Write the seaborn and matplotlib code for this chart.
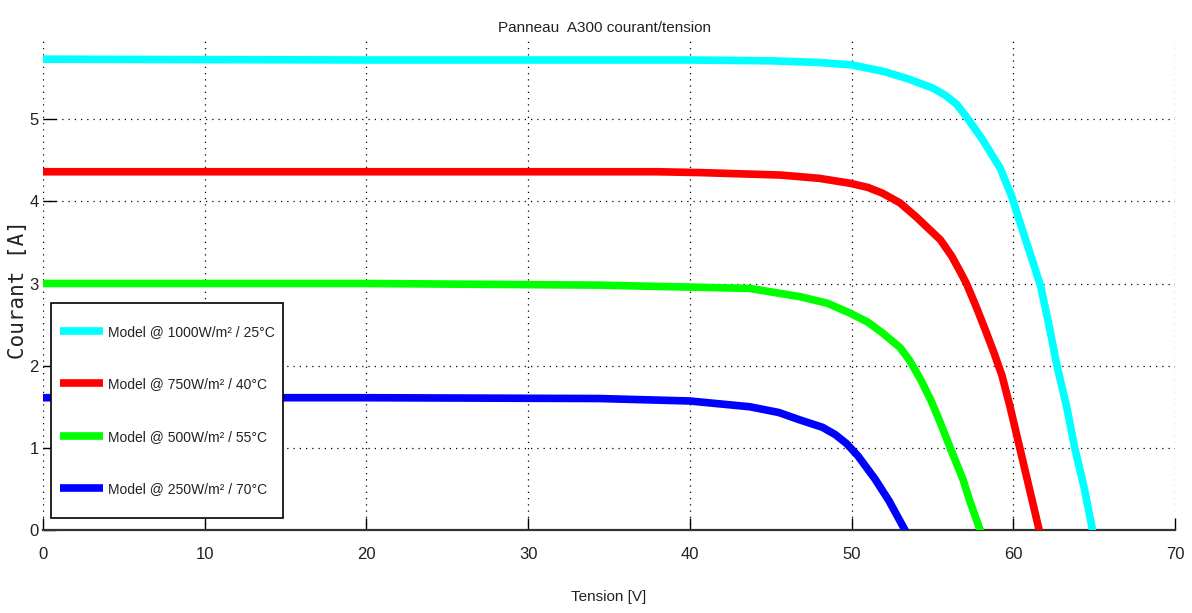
import matplotlib
matplotlib.use("Agg")
import matplotlib.pyplot as plt
import seaborn as sns
import pandas as pd

# Series labels and colours
labels = [
    "Model @ 1000W/m² / 25°C",
    "Model @ 750W/m² / 40°C",
    "Model @ 500W/m² / 55°C",
    "Model @ 250W/m² / 70°C",
]
colors = ["#00FFFF", "#FF0000", "#00FF00", "#0000FF"]

# I-V curves: voltage [V] and current [A] for each irradiance / temperature
v_1000 = [0, 20, 40, 45, 48, 50, 52, 53.5, 55, 55.8, 56.5, 57.1, 58.1, 59.2, 59.9, 60.6, 61.2,
          61.7, 62.2, 62.7, 63.3, 63.8, 64.4, 64.9]
i_1000 = [5.73, 5.72, 5.72, 5.71, 5.69, 5.66, 5.58, 5.49, 5.38, 5.29, 5.18, 5.03, 4.75, 4.40, 4.06,
          3.63, 3.27, 2.96, 2.5, 2.0, 1.5, 1.0, 0.5, 0.0]

v_750 = [0, 20, 38, 40.6, 45.6, 48.0, 49.9, 51.0, 51.9, 53.0, 54.0, 55.5, 56.2, 56.7, 57.1, 57.7,
         58.3, 58.8, 59.3, 59.8, 60.4, 61.0, 61.6]
i_750 = [4.36, 4.36, 4.36, 4.35, 4.32, 4.28, 4.22, 4.17, 4.10, 3.98, 3.81, 3.53, 3.33, 3.15, 3.0,
         2.72, 2.42, 2.16, 1.88, 1.5, 1.0, 0.5, 0.0]

v_500 = [0, 20, 34.4, 43.7, 46.8, 48.5, 49.9, 51.0, 51.9, 53.0, 53.6, 54.3, 54.9, 55.5, 56.1, 56.9,
         57.3, 57.95]
i_500 = [3.0, 3.0, 2.98, 2.94, 2.84, 2.76, 2.64, 2.53, 2.40, 2.22, 2.06, 1.82, 1.58, 1.30, 1.0, 0.61,
         0.36, 0.0]

v_250 = [0, 20, 34.4, 40, 43.7, 45.5, 46.8, 48.2, 49.0, 49.7, 50.4, 51.45, 52.3, 53.3]
i_250 = [1.61, 1.61, 1.60, 1.57, 1.50, 1.43, 1.34, 1.25, 1.16, 1.05, 0.90, 0.62, 0.36, 0.0]

x_ticks = [0, 10, 20, 30, 40, 50, 60, 70]
y_ticks = [0, 1, 2, 3, 4, 5]

title = "Panneau  A300 courant/tension"
x_label = "Tension [V]"
y_label = "Courant [A]"

# Long-form table for seaborn
frames = []
for lab, v, i in zip(labels, [v_1000, v_750, v_500, v_250], [i_1000, i_750, i_500, i_250]):
    frames.append(pd.DataFrame({"Tension": v, "Courant": i, "serie": lab}))
df = pd.concat(frames, ignore_index=True)

sns.set_style("white")
narrow = ["Liberation Sans", "DejaVu Sans"]
plt.rcParams["font.family"] = narrow

fig = plt.figure(figsize=(11.92, 6.13), dpi=100)
ax = fig.add_axes([43 / 1192, 83 / 613, 1132 / 1192, 493 / 613])

sns.lineplot(
    data=df, x="Tension", y="Courant", hue="serie", hue_order=labels,
    palette=dict(zip(labels, colors)), sort=False, estimator=None,
    linewidth=5.5, ax=ax, zorder=3,
)

ax.set_xlim(0, 70)
ax.set_ylim(0, 6)
ax.set_xticks(x_ticks)
ax.set_xticklabels([str(t) for t in x_ticks])
ax.set_yticks(y_ticks)
ax.set_yticklabels([str(t) for t in y_ticks])

ax.grid(True, color="black", linestyle=(0, (1, 4)), linewidth=0.9, zorder=1)
ax.set_axisbelow(True)

for side in ["top", "right", "left"]:
    ax.spines[side].set_visible(False)
ax.spines["bottom"].set_color("#333333")
ax.spines["bottom"].set_linewidth(1.6)

ax.tick_params(axis="both", direction="in", length=9, width=1, color="black",
               labelsize=12, labelcolor="#222222")
ax.tick_params(axis="x", pad=12, bottom=True)
ax.tick_params(axis="y", pad=3, left=True)

ax.set_xlabel("")
ax.set_ylabel("")
fig.text(609 / 1192, 1 - 597 / 613, x_label, ha="center", va="center",
         fontsize=11, color="#222222", family=narrow)
fig.text(18 / 1192, 1 - 290 / 613, y_label, ha="center", va="center",
         rotation=90, fontsize=15, color="#222222", family=["DejaVu Sans Mono"])
fig.text(605 / 1192, 1 - 28 / 613, title, ha="center", va="center",
         fontsize=11, color="#222222", family=narrow)

leg = ax.legend(
    loc="lower left", bbox_to_anchor=(0.008, 0.054), borderaxespad=0,
    frameon=True, fancybox=False, edgecolor="black", framealpha=1,
    fontsize=10, handlelength=3.1, handletextpad=0.35, labelspacing=2.75,
    borderpad=0.55, title=None,
)
# taller frame than the packed entries: extra vertical padding only
leg.legendPatch.set_boxstyle("square", pad=0.05)
leg.legendPatch.set_mutation_aspect(21)
leg.get_frame().set_linewidth(1.2)
for line in leg.get_lines():
    line.set_linewidth(5.5)
    line.set_solid_capstyle("butt")
for t in leg.get_texts():
    t.set_color("#222222")

fig.savefig("out.png", dpi=100)
